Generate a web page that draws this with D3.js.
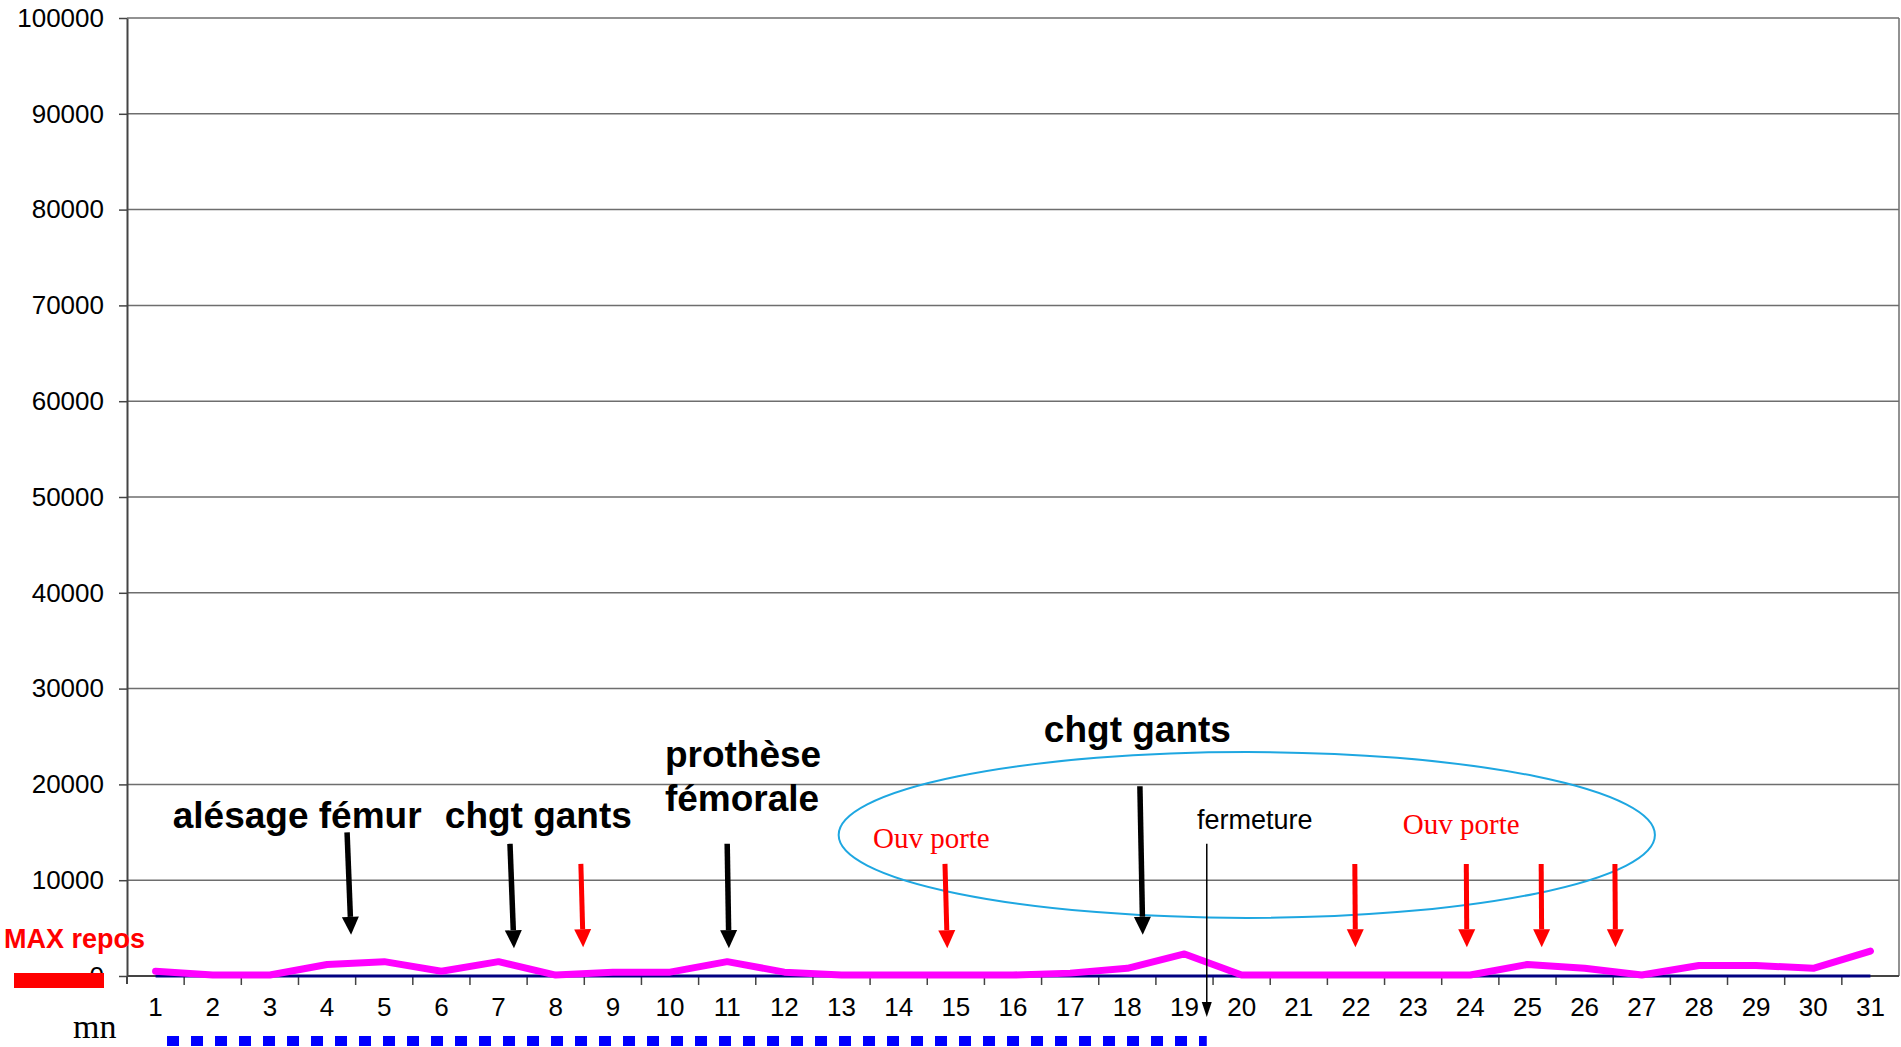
<!DOCTYPE html>
<html>
<head>
<meta charset="utf-8">
<script src="https://d3js.org/d3.v7.min.js"></script>
<style>
  body { margin: 0; background: #fff; }
</style>
</head>
<body>
<svg width="1901" height="1047" font-family="Liberation Sans, Arial, sans-serif"></svg>
<script>
// data
const days = d3.range(1, 32);
const particles = [500, 100, 100, 1200, 1500, 500, 1500, 100, 400, 400, 1500, 400, 100, 100, 100, 100,
                   300, 800, 2300, 100, 100, 100, 100, 100, 1200, 800, 100, 1100, 1100, 800, 2600];
const baseline = days.map(() => 0);
const yTicks = d3.range(0, 100001, 10000);

// annotations, in chart units (day, value)
const blackArrows = [[4.35, 15000, 4.42, 4300], [7.20, 13800, 7.27, 2900], [11.0, 13800, 11.03, 2900], [18.22, 19800, 18.27, 4300]];
const redArrows = [[8.44, 11700, 8.48, 3000], [14.81, 11700, 14.85, 2900], [21.98, 11700, 21.99, 3000],
                   [23.93, 11700, 23.94, 3000], [25.24, 11700, 25.25, 3000], [26.53, 11700, 26.54, 3000]];
const boldNotes = [["alésage fémur", 1.30, 15450], ["chgt gants", 6.06, 15450], ["prothèse", 9.91, 21800],
                   ["fémorale", 9.91, 17200], ["chgt gants", 16.54, 24400]];
const doorNotes = [["Ouv porte", 13.55, 13360], ["Ouv porte", 22.82, 14820]];

const svg = d3.select("svg");
const mLeft = 127, mRight = 1899, mTop = 18, mBottom = 976;
const serif = "Liberation Serif, Times New Roman, serif";

const x = d3.scaleBand().domain(days).range([mLeft, mRight]);
const xl = d3.scaleLinear().domain([0.5, 31.5]).range([mLeft, mRight]);
const y = d3.scaleLinear().domain([0, 100000]).range([mBottom, mTop]);
const cx = d => x(d) + x.bandwidth() / 2;

// grid
svg.append("g").selectAll("line").data(yTicks).join("line")
  .attr("x1", mLeft).attr("x2", mRight)
  .attr("y1", d => y(d)).attr("y2", d => y(d))
  .attr("stroke", "#6e6e6e").attr("stroke-width", 1.5);
svg.append("line").attr("x1", mRight).attr("x2", mRight).attr("y1", mTop).attr("y2", mBottom)
  .attr("stroke", "#6e6e6e").attr("stroke-width", 1.5);

// y axis
const ya = svg.append("g").attr("transform", `translate(${mLeft},0)`)
  .call(d3.axisLeft(y).tickValues(yTicks).tickSize(8).tickSizeOuter(0).tickPadding(15).tickFormat(d3.format("d")));
ya.attr("font-family", null).attr("font-size", null);
ya.select(".domain").attr("stroke", "#444").attr("stroke-width", 2);
ya.selectAll(".tick line").attr("stroke", "#444").attr("stroke-width", 1.5);
ya.selectAll("text").style("font-size", "26px").attr("fill", "#000");

// x axis
svg.append("line").attr("x1", mLeft).attr("x2", mRight).attr("y1", mBottom).attr("y2", mBottom)
  .attr("stroke", "#444").attr("stroke-width", 2);
svg.append("line").attr("x1", mLeft).attr("x2", mLeft).attr("y1", mBottom).attr("y2", mBottom + 8)
  .attr("stroke", "#444").attr("stroke-width", 2);
svg.append("g").selectAll("line").data(days.slice(0, 30)).join("line")
  .attr("x1", d => xl(d + 0.5)).attr("x2", d => xl(d + 0.5))
  .attr("y1", mBottom).attr("y2", mBottom + 9)
  .attr("stroke", "#444").attr("stroke-width", 1.5);
const xa = svg.append("g").attr("transform", `translate(0,${mBottom})`)
  .call(d3.axisBottom(x).tickSize(0).tickPadding(22));
xa.attr("font-family", null).attr("font-size", null);
xa.select(".domain").remove();
xa.selectAll("text").style("font-size", "26px").attr("fill", "#000");

// series
const line = d3.line().x((d, i) => cx(days[i])).y(d => y(d));
svg.append("path").datum(baseline).attr("d", line)
  .attr("fill", "none").attr("stroke", "#000080").attr("stroke-width", 3);
svg.append("path").datum(particles).attr("d", line)
  .attr("fill", "none").attr("stroke", "#ff00ff").attr("stroke-width", 7)
  .attr("stroke-linejoin", "round").attr("stroke-linecap", "round");

// MAX repos marker
svg.append("rect").attr("x", 14).attr("y", mBottom - 3).attr("width", 90).attr("height", 15).attr("fill", "#ff0000");
svg.append("text").attr("x", 4).attr("y", 948).style("font-size", "27px").attr("font-weight", "bold")
  .attr("fill", "#ff0000").text("MAX repos");

// mn + dashed line
svg.append("text").attr("x", 73).attr("y", 1038).style("font-size", "34px")
  .style("font-family", serif).text("mn");
svg.append("line").attr("x1", xl(1.2)).attr("x2", xl(19.39)).attr("y1", 1041).attr("y2", 1041)
  .attr("stroke", "#0000ff").attr("stroke-width", 10).attr("stroke-dasharray", "12,12");

// ellipse
svg.append("ellipse").attr("cx", xl(20.09)).attr("cy", y(14720))
  .attr("rx", xl(20.09 + 7.14) - xl(20.09)).attr("ry", y(0) - y(8660))
  .attr("fill", "none").attr("stroke", "#1ea7e1").attr("stroke-width", 2);

function arrow(a, color, w, hw, hl) {
  const x1 = xl(a[0]), y1 = y(a[1]), x2 = xl(a[2]), y2 = y(a[3]);
  const len = Math.hypot(x2 - x1, y2 - y1), ux = (x2 - x1) / len, uy = (y2 - y1) / len;
  const bx = x2 - ux * hl, by = y2 - uy * hl;
  svg.append("line").attr("x1", x1).attr("y1", y1).attr("x2", bx).attr("y2", by)
    .attr("stroke", color).attr("stroke-width", w);
  svg.append("path")
    .attr("d", `M${x2},${y2}L${bx - uy * hw / 2},${by + ux * hw / 2}L${bx + uy * hw / 2},${by - ux * hw / 2}Z`)
    .attr("fill", color);
}
blackArrows.forEach(a => arrow(a, "#000", 5.5, 17, 18));
redArrows.forEach(a => arrow(a, "#ff0000", 5, 17, 18));
arrow([19.39, 13800, 19.39, -4280], "#000", 1.5, 10, 15);

// texts
svg.append("g").selectAll("text").data(boldNotes).join("text")
  .attr("x", d => xl(d[1])).attr("y", d => y(d[2]))
  .style("font-size", "37px").attr("font-weight", "bold").attr("fill", "#000").text(d => d[0]);
svg.append("g").selectAll("text").data(doorNotes).join("text")
  .attr("x", d => xl(d[1])).attr("y", d => y(d[2]))
  .style("font-size", "29px").attr("fill", "#ff0000")
  .style("font-family", serif).text(d => d[0]);
svg.append("text").attr("x", xl(19.22)).attr("y", y(15340)).style("font-size", "27px").attr("fill", "#000").text("fermeture");
</script>
</body>
</html>
